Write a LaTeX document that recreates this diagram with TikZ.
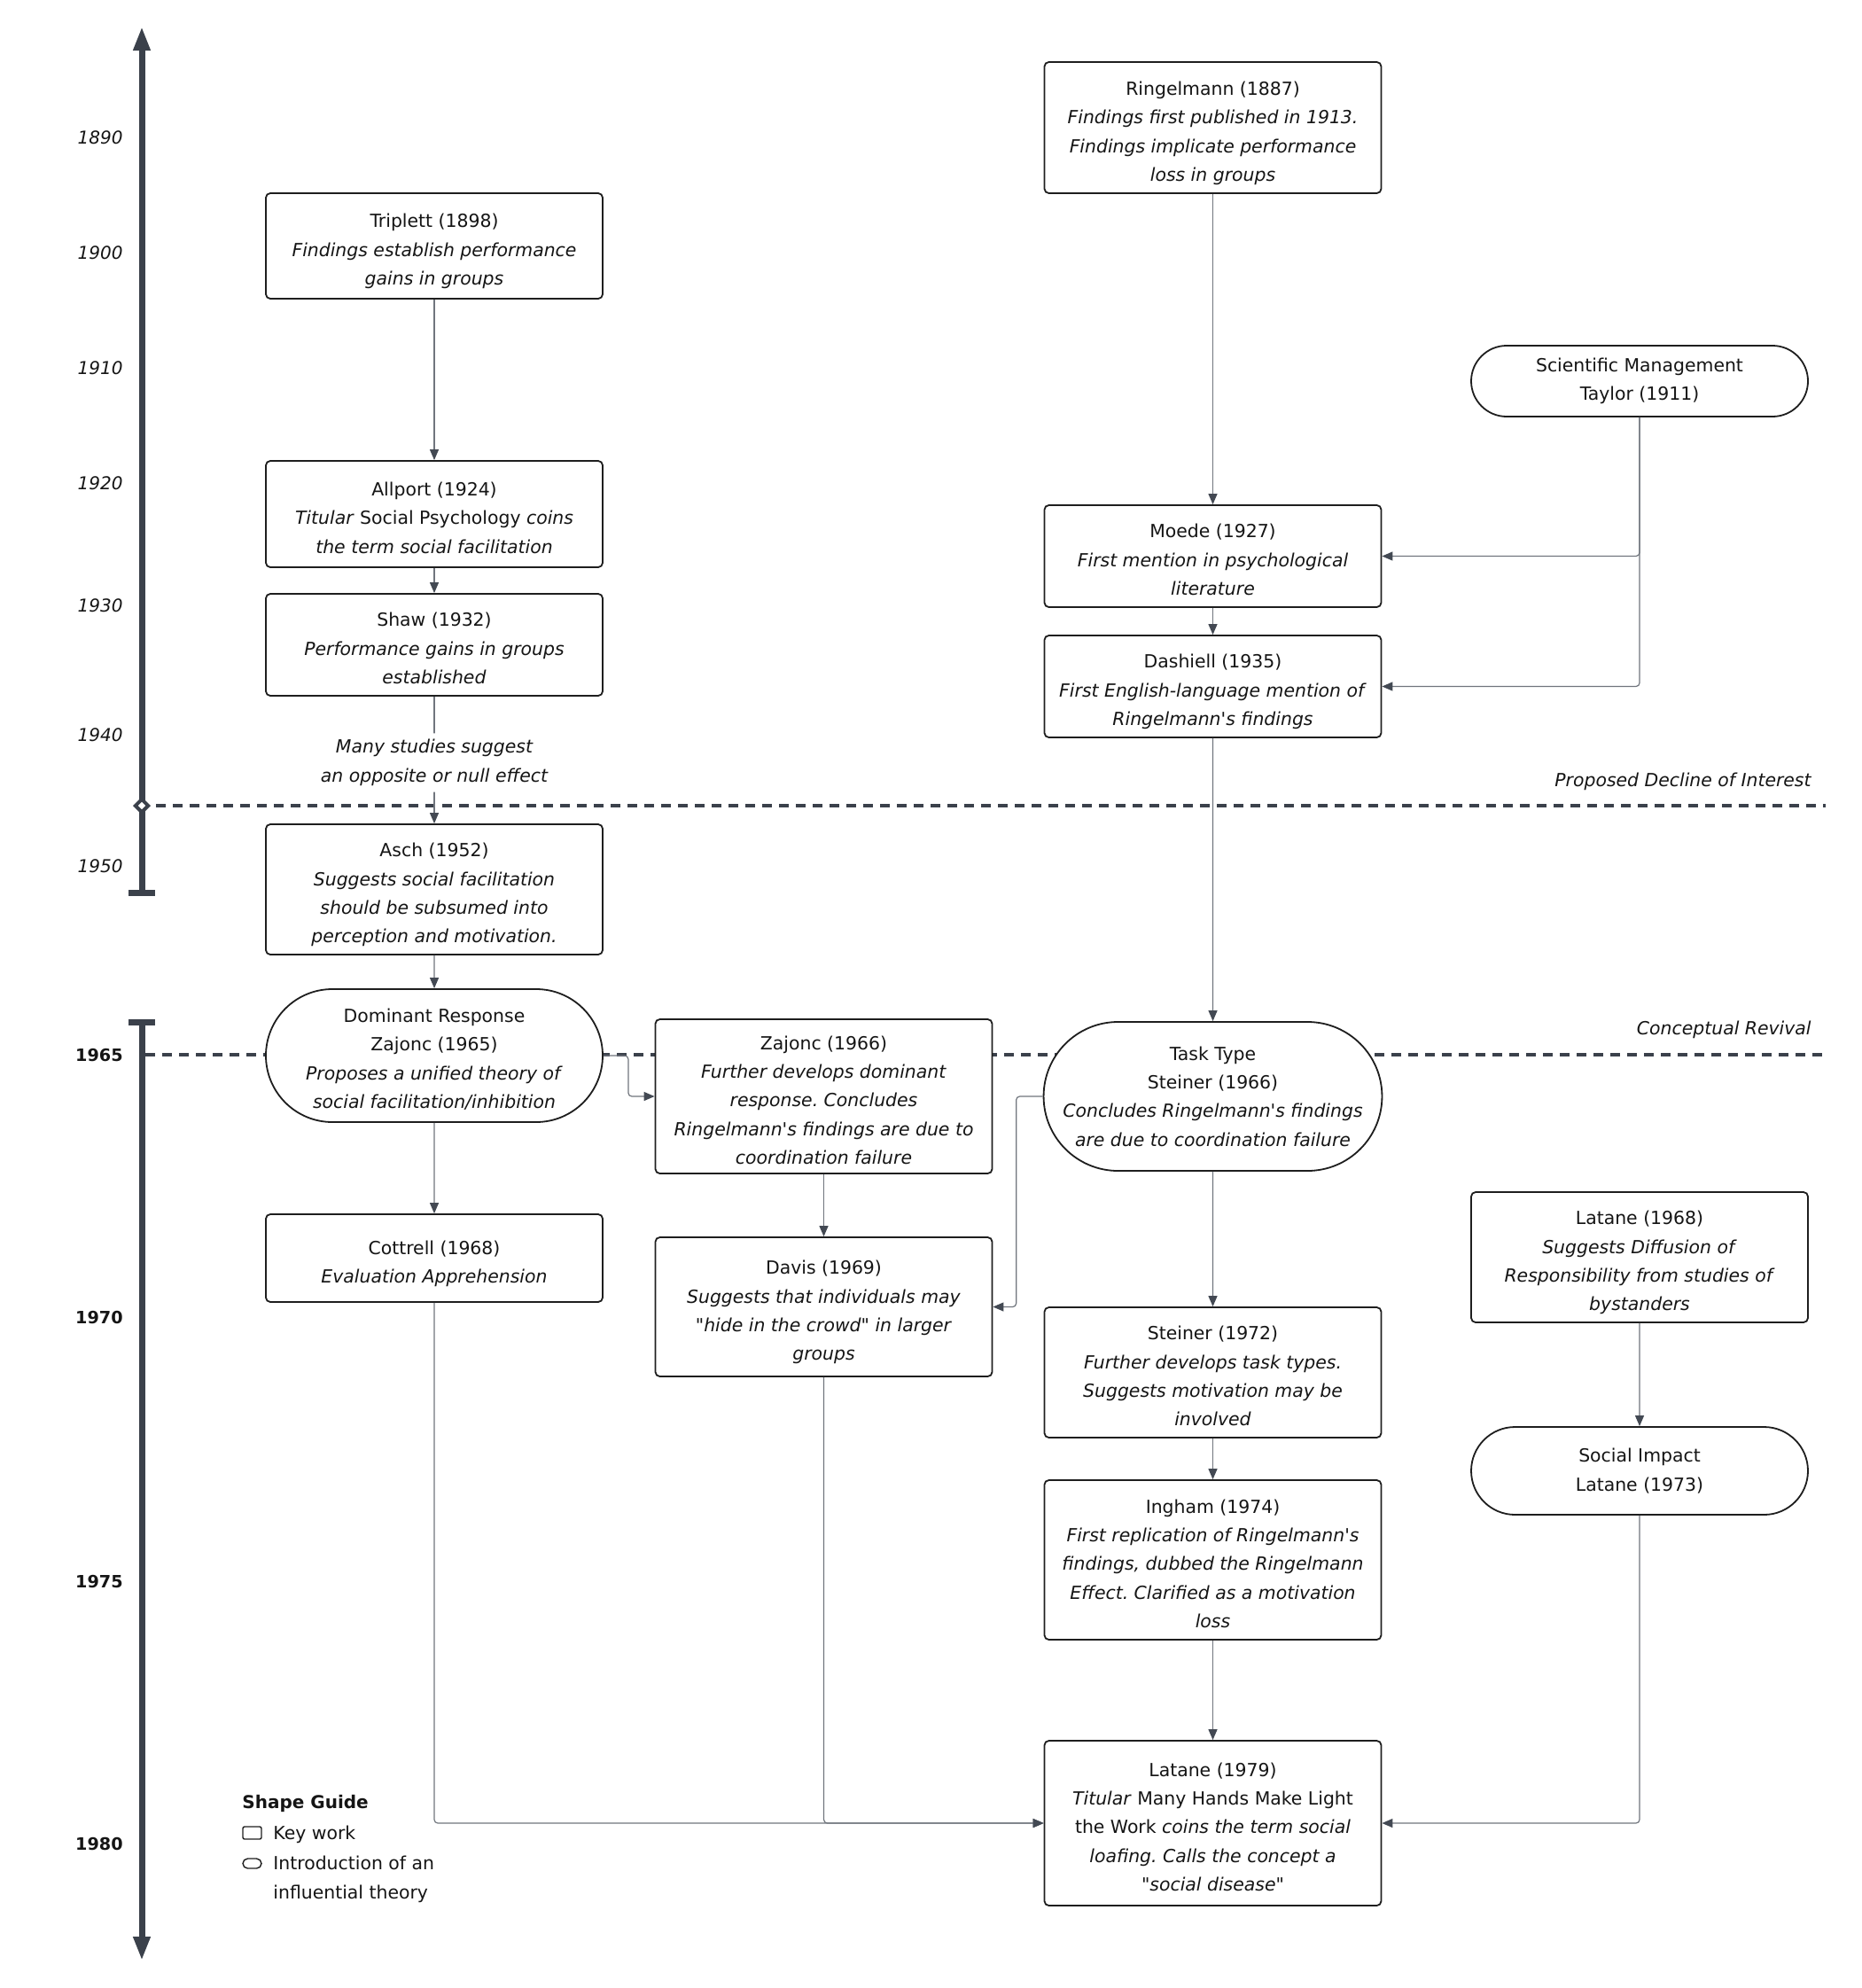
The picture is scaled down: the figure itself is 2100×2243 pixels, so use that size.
\documentclass[tikz,border=0pt]{standalone}
\usepackage{fontspec}
\setmainfont{DejaVu Sans}[Ligatures=TeXOff]
\usetikzlibrary{arrows.meta,shapes.misc,shapes.geometric}
\definecolor{axisc}{HTML}{3B414B}
\definecolor{connc}{HTML}{70757D}
\definecolor{tipc}{HTML}{434953}
\definecolor{bordc}{HTML}{1E1E1E}
\definecolor{txtc}{HTML}{151515}
\newcommand\kbtop{\rule{0pt}{14pt}}
\newcommand\kbbot{\rule[-2.2pt]{0pt}{0pt}}
\begin{document}
\frenchspacing
\begin{tikzpicture}[x=0.5pt,y=-0.5pt,
  every node/.style={text=txtc, font=\fontsize{10.2pt}{16.2pt}\selectfont},
  keybox/.style={draw=bordc, line width=0.9pt, fill=white, rounded corners=2.5pt, align=center, minimum width=190pt, inner sep=0pt},
  theory/.style={draw=bordc, line width=0.9pt, fill=white, rounded rectangle, align=center, minimum width=190pt, inner sep=0pt},
  connline/.style={draw=connc, line width=0.6pt, rounded corners=2pt, -{Triangle[length=6pt,width=5pt,color=tipc]}},
  axisline/.style={draw=axisc, line width=3.5pt},
  dashline/.style={draw=axisc, line width=2.25pt, dash pattern=on 5.5pt off 4pt},
  yearit/.style={anchor=east, inner sep=0pt, font=\fontsize{10pt}{12pt}\selectfont\itshape},
  yearbf/.style={anchor=east, inner sep=0pt, font=\fontsize{9.6pt}{12pt}\selectfont\bfseries},
  annot/.style={anchor=east, inner sep=0pt, font=\fontsize{10.2pt}{12pt}\selectfont\itshape}
]
\useasboundingbox (0,0) rectangle (2100,2243);

% axes
\draw[axisline, -{Triangle[length=13.5pt,width=9pt]}] (160,1007) -- (160,30);
\draw[axisline] (145,1007) -- (175,1007);
\draw[axisline] (145,1153) -- (175,1153);
\draw[axisline, -{Triangle[length=13.5pt,width=9pt]}] (160,1153) -- (160,2212);

% dashed era lines
\draw[dashline] (176,909) -- (2060,909);
\draw[dashline] (164,1190) -- (2060,1190);
\node[diamond, draw=axisc, fill=white, line width=2pt, minimum size=8pt, inner sep=0pt] (decl) at (160,909) {};

\node[annot] (declinelab) at (2044,882) {Proposed Decline of Interest};
\node[annot] (revivallab) at (2044,1162) {Conceptual Revival};

% year labels
\node[yearit] (y1890) at (139,155) {1890};
\node[yearit] (y1900) at (139,285) {1900};
\node[yearit] (y1910) at (139,415) {1910};
\node[yearit] (y1920) at (139,545) {1920};
\node[yearit] (y1930) at (139,683) {1930};
\node[yearit] (y1940) at (139,829) {1940};
\node[yearit] (y1950) at (139,977) {1950};
\node[yearbf] (y1965) at (139,1191) {1965};
\node[yearbf] (y1970) at (139,1486) {1970};
\node[yearbf] (y1975) at (139,1784) {1975};
\node[yearbf] (y1980) at (139,2080) {1980};

% nodes
\node[keybox, minimum height=74pt] (ringelmann) at (1368.5,144) {\kbtop Ringelmann (1887)\\\textit{Findings first published in 1913.}\\\textit{Findings implicate performance}\\\textit{loss in groups}\kbbot};
\node[keybox, minimum height=59.5pt] (triplett) at (490,277.5) {\kbtop Triplett (1898)\\\textit{Findings establish performance}\\\textit{gains in groups}\kbbot};
\node[theory, minimum height=40pt] (taylor) at (1850,430) {Scientific Management\\Taylor (1911)};
\node[keybox, minimum height=60pt] (allport) at (490,580) {\kbtop Allport (1924)\\\textit{Titular} Social Psychology \textit{coins}\\\textit{the term social facilitation}\kbbot};
\node[keybox, minimum height=57.5pt] (moede) at (1368.5,627.5) {\kbtop Moede (1927)\\\textit{First mention in psychological}\\\textit{literature}\kbbot};
\node[keybox, minimum height=57.5pt] (shaw) at (490,727.5) {\kbtop Shaw (1932)\\\textit{Performance gains in groups}\\\textit{established}\kbbot};
\node[keybox, minimum height=57.5pt] (dashiell) at (1368.5,774.5) {\kbtop Dashiell (1935)\\\textit{First English-language mention of}\\\textit{Ringelmann's findings}\kbbot};
\node[keybox, minimum height=73.5pt] (asch) at (490,1003.5) {\kbtop Asch (1952)\\\textit{Suggests social facilitation}\\\textit{should be subsumed into}\\\textit{perception and motivation.}\kbbot};
\node[theory, minimum height=75pt] (zaj65) at (490,1191) {\rule{0pt}{11.9pt}Dominant Response\\Zajonc (1965)\\\textit{Proposes a unified theory of}\\\textit{social facilitation/inhibition}};
\node[keybox, minimum height=87pt] (zaj66) at (929.5,1237) {\kbtop Zajonc (1966)\\\textit{Further develops dominant}\\\textit{response. Concludes}\\\textit{Ringelmann's findings are due to}\\\textit{coordination failure}\kbbot};
\node[theory, minimum height=84pt] (task) at (1368.5,1237) {Task Type\\Steiner (1966)\\\textit{Concludes Ringelmann's findings}\\\textit{are due to coordination failure}};
\node[keybox, minimum height=73.5pt] (latane68) at (1850,1418.5) {\kbtop Latane (1968)\\\textit{Suggests Diffusion of}\\\textit{Responsibility from studies of}\\\textit{bystanders}\kbbot};
\node[keybox, minimum height=49.5pt] (cottrell) at (490,1419.5) {\kbtop Cottrell (1968)\\\textit{Evaluation Apprehension}\kbbot};
\node[keybox, minimum height=78.5pt] (davis) at (929.5,1474.5) {\kbtop Davis (1969)\\\textit{Suggests that individuals may}\\\textit{"hide in the crowd" in larger}\\\textit{groups}\kbbot};
\node[keybox, minimum height=73.5pt] (steiner72) at (1368.5,1548.5) {\kbtop Steiner (1972)\\\textit{Further develops task types.}\\\textit{Suggests motivation may be}\\\textit{involved}\kbbot};
\node[theory, minimum height=49.5pt] (social) at (1850,1659.5) {Social Impact\\Latane (1973)};
\node[keybox, minimum height=90pt] (ingham) at (1368.5,1760) {\kbtop Ingham (1974)\\\textit{First replication of Ringelmann's}\\\textit{findings, dubbed the Ringelmann}\\\textit{Effect. Clarified as a motivation}\\\textit{loss}\kbbot};
\node[keybox, minimum height=93pt] (latane79) at (1368.5,2057) {\kbtop Latane (1979)\\\textit{Titular} Many Hands Make Light\\the Work \textit{coins the term social}\\\textit{loafing. Calls the concept a}\\\textit{"social disease"}\kbbot};

% connectors
\draw[connline] (triplett) -- (allport);
\draw[connline] (allport) -- (shaw);
\draw[connline] (shaw) -- node[fill=white, inner xsep=2pt, inner ysep=3.5pt, yshift=-1.5pt, align=center, font=\fontsize{10.2pt}{16.2pt}\selectfont\itshape] (nulllab) {Many studies suggest\\an opposite or null effect} (asch);
\draw[connline] (asch) -- (zaj65);
\draw[connline] (zaj65) -- (cottrell);
\draw[connline] (zaj65.east) -- ++(28,0) |- (zaj66.west);
\draw[connline] (zaj66) -- (davis);
\draw[connline] (ringelmann) -- (moede);
\draw[connline] (taylor.south) |- (moede.east);
\draw[connline] (taylor.south) |- (dashiell.east);
\draw[connline] (moede) -- (dashiell);
\draw[connline] (dashiell) -- (task);
\draw[connline] (task.west) -- ++(-30,0) |- (davis.east);
\draw[connline] (task) -- (steiner72);
\draw[connline] (steiner72) -- (ingham);
\draw[connline] (ingham) -- (latane79);
\draw[connline] (latane68) -- (social);
\draw[connline] (social.south) |- (latane79.east);
\draw[connline] (cottrell.south) |- (latane79.west);
\draw[connline] (davis.south) |- (latane79.west);

% legend
\node[anchor=west, inner sep=0pt, font=\fontsize{10pt}{12pt}\selectfont\bfseries] (leghead) at (273,2035) {Shape Guide};
\node[draw=bordc, line width=0.7pt, rounded corners=1pt, minimum width=10.5pt, minimum height=7pt, inner sep=0pt] (legrect) at (284.5,2068) {};
\node[anchor=west, inner sep=0pt] (legkey) at (308,2070) {Key work};
\node[draw=bordc, line width=0.7pt, rounded rectangle, minimum width=10.5pt, minimum height=5.5pt, inner sep=0pt] (legstad) at (284.5,2102.5) {};
\node[anchor=north west, align=left, inner sep=0pt] (legtheory) at (308,2094) {Introduction of an\\influential theory};
\end{tikzpicture}
\end{document}
